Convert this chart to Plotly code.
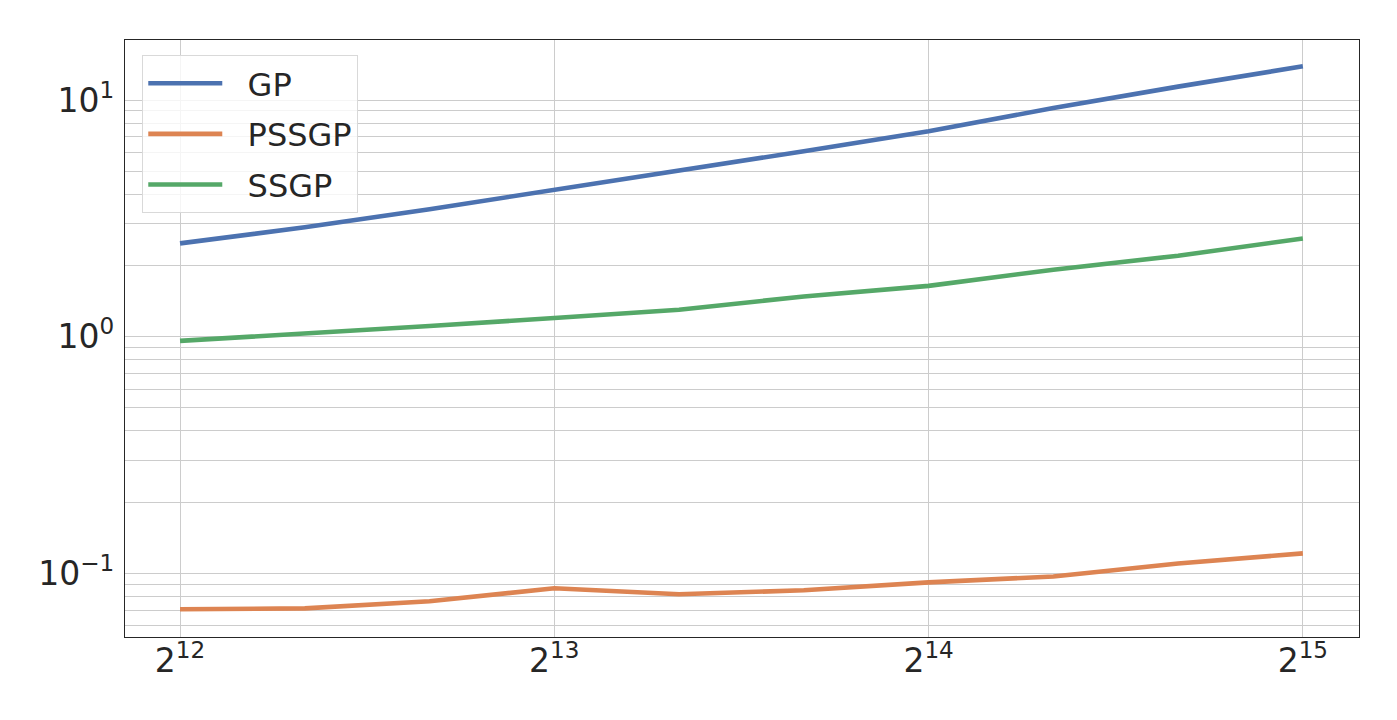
import numpy as np
import plotly.graph_objects as go

# Data
n_points = [4096, 5161, 6502, 8192, 10321, 13004, 16384, 20643, 26008, 32768]
gp = [2.48, 2.90, 3.46, 4.16, 5.01, 6.08, 7.39, 9.25, 11.4, 13.9]
pssgp = [0.0705, 0.0711, 0.0762, 0.0865, 0.0816, 0.0848, 0.0916, 0.097, 0.110, 0.1215]
ssgp = [0.96, 1.03, 1.11, 1.20, 1.30, 1.48, 1.64, 1.92, 2.20, 2.60]

x_tickvals = [2**12, 2**13, 2**14, 2**15]
x_ticktext = ["2<sup>12</sup>", "2<sup>13</sup>", "2<sup>14</sup>", "2<sup>15</sup>"]
y_tickvals = [0.1, 1, 10]
y_ticktext = ["10<sup>\u22121</sup>", "10<sup>0</sup>", "10<sup>1</sup>"]

series = [("GP", gp, "#4C72B0"), ("PSSGP", pssgp, "#DD8452"), ("SSGP", ssgp, "#55A868")]

fig = go.Figure()
for name, vals, color in series:
    fig.add_trace(go.Scatter(x=n_points, y=vals, mode="lines",
                             name="\u00a0\u00a0" + name,
                             legendgroup=name,
                             line=dict(color=color, width=4.6)))

font_color = "#262626"
grid_color = "#cccccc"
l2 = np.log10(2)

fig.update_layout(
    width=1397, height=720,
    margin=dict(l=117, r=46, t=32, b=91),
    paper_bgcolor="white", plot_bgcolor="white",
    font=dict(family="DejaVu Sans", color=font_color, size=33),
    showlegend=True,
    legend=dict(x=0.014, y=0.975, xanchor="left", yanchor="top",
                bgcolor="rgba(255,255,255,0.8)", bordercolor="#d9d9d9", borderwidth=1,
                font=dict(size=32, color=font_color), tracegroupgap=6,
                itemwidth=74),
    xaxis=dict(type="log", range=[l2 * 11.853, l2 * 15.15],
               tickvals=x_tickvals, ticktext=x_ticktext,
               showgrid=True, gridcolor=grid_color, gridwidth=1,
               showline=True, linecolor=font_color, linewidth=1.3, mirror=True,
               ticks="", ticklabelstandoff=-6, zeroline=False,
               tickfont=dict(size=33, color=font_color)),
    yaxis=dict(type="log", range=[-1.269, 1.254],
               tickvals=y_tickvals, ticktext=y_ticktext,
               showgrid=True, gridcolor=grid_color, gridwidth=1,
               minor=dict(dtick="D1", showgrid=True, gridcolor=grid_color, gridwidth=1, ticks=""),
               showline=True, linecolor=font_color, linewidth=1.3, mirror=True,
               ticks="", ticklabelstandoff=3, zeroline=False,
               tickfont=dict(size=33, color=font_color)),
)

fig.write_html("out.html")
